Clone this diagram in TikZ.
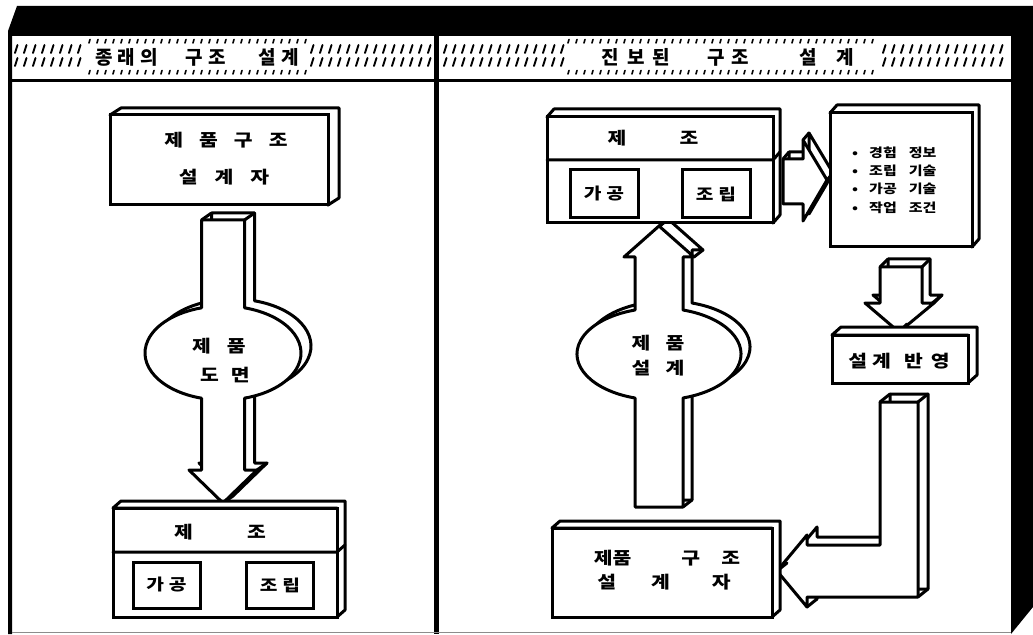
\documentclass[tikz,border=0pt]{standalone}
\usepackage{fontspec}
\newfontfamily\kr[FakeStretch=1.2]{Noto Sans CJK KR}
\newfontfamily\krt{Noto Sans CJK KR}
\usetikzlibrary{fit}

\tikzset{
  edge/.style={line width=3bp, line join=round, draw=black, fill=white},
  face/.style={draw=black, line width=3bp, fill=white, inner sep=0pt, outer sep=0pt},
  inbox/.style={draw=black, line width=3bp, fill=white, inner sep=0pt,
    minimum width=67bp, minimum height=46bp, font=\kr\bfseries\fontsize{16bp}{19bp}\selectfont},
  lbl/.style={font=\kr\bfseries\fontsize{17bp}{20bp}\selectfont, inner sep=0pt},
  ttl/.style={font=\krt\bfseries\fontsize{19bp}{22bp}\selectfont, inner sep=0pt},
  info/.style={font=\kr\bfseries\fontsize{12.5bp}{18.3bp}\selectfont, align=left, inner sep=0pt},
  tick/.style={line width=1.9bp, line cap=round},
  dot/.style={line width=1.6bp, line cap=round},
  link/.style={line width=3bp, line cap=round},
}

% a box drawn as a thin slab: top and side faces behind a front face
% #1 name, (#2,#3)-(#4,#5) front face, #6/#7 depth to the right / upwards
\newcommand\slabbox[7]{%
  \filldraw[edge] (#2,#3) -- (#2+#6,#3-#7) -- (#4+#6,#3-#7) -- (#4+#6,#5-#7)
    -- (#4,#5) -- (#4,#3) -- cycle;
  \node[face, fit={(#2,#3) (#4,#5)}] (#1) {};
}

% outlines of the block arrows (front faces)
\def\arrowLdown{(201.5,220) -- (244.5,220) -- (244.5,307.8)
  arc[start angle=-74, end angle=74, x radius=78, y radius=47]
  -- (244.5,470) -- (257,470) -- (223,503) -- (189,470) -- (201.5,470) -- (201.5,398.2)
  arc[start angle=106, end angle=254, x radius=78, y radius=47] -- cycle}
\def\arrowRup{(635,507) -- (635,398)
  arc[start angle=107, end angle=253, x radius=82, y radius=46]
  -- (635,257) -- (624,257) -- (659,226) -- (694,257) -- (683,257) -- (683,310)
  arc[start angle=-73, end angle=73, x radius=82, y radius=46] -- (683,507) -- cycle}
\def\arrowRright{(783,159) -- (803,159) -- (803,140) -- (827,180) -- (803,221)
  -- (803,204) -- (783,204) -- cycle}
\def\arrowRdown{(880,267) -- (922,267) -- (922,303) -- (934,303) -- (899,332)
  -- (865,303) -- (880,303) -- cycle}
\def\arrowRL{(880,402) -- (918,402) -- (918,597) -- (807,597) -- (807,607)
  -- (777,571) -- (807,535) -- (807,545) -- (880,545) -- cycle}

\begin{document}
\begin{tikzpicture}[x=1bp, y=-1bp]
\useasboundingbox (0,0) rectangle (1033,635);
\fill[white] (0,0) rectangle (1033,635);

% ---------- frame ----------
\fill[black] (17,6) -- (1033,6) -- (1033,607) -- (1011,634) -- (1011,36)
  -- (12,36) -- (12,634) -- (8,634) -- (8,31) -- cycle;
\draw[line width=3bp] (12,81) -- (1011,81);
\draw[line width=5bp] (436,36) -- (436,634);
\draw[line width=0.7bp, black!45] (12,632) -- (1011,632);

% ---------- hatched header ----------
\foreach \x in {15,24,...,84, 311,320,...,430, 444,453,...,562, 883,892,...,1006} {
  \draw[tick] (\x,53) -- (\x+2.5,45);
  \draw[tick] (\x,66) -- (\x+2.5,58);
}
\foreach \x in {89,97,...,305, 568,576,...,877} {
  \draw[dot] (\x,43) -- (\x+1,39.5);
  \draw[dot] (\x,74) -- (\x+1,70.5);
}
\node[ttl] (ltitle) at (197,57) {종\kern5bp래\kern5bp의\kern28bp구\kern5bp조\kern33bp설\kern5bp계};
\node[ttl] (rtitle) at (728,57) {진\kern8bp보\kern8bp된\kern37bp구\kern7bp조\kern50bp설\kern20bp계};

% ---------- left panel ----------
\filldraw[edge, shift={(10,-7)}] \arrowLdown;
\filldraw[edge] \arrowLdown;
\draw[link] (201.5,220) -- (211.5,213) (244.5,220) -- (254.5,213)
  (257,470) -- (267,463) (223,503) -- (233,496);

\slabbox{ldesigner}{110}{115}{328}{205}{11}{7}
\node[lbl] (ldes1) at (226,140) {제\kern16bp품\kern16bp구\kern16bp조};
\node[lbl] (ldes2) at (224,177) {설\kern17bp계\kern17bp자};

\node[lbl] (ldraw1) at (219,346) {제\kern16bp품};
\node[lbl] (ldraw2) at (225,375) {도\kern12bp면};

\slabbox{lmaking}{113}{508}{337}{617}{8}{7}
\draw[link] (113,552) -- (337,552) -- (345,545);
\node[lbl] (lmake) at (220,532) {제\kern54bp조};
\node[inbox] (lproc) at (166.5,585) {가\kern5bp공};
\node[inbox] (lasm) at (280,585) {조\kern5bp립};

% ---------- right panel ----------
\filldraw[edge, shift={(9,-7)}] \arrowRup;
\filldraw[edge] \arrowRup;
\draw[link] (683,507) -- (692,500) (659,226) -- (668,219) (694,257) -- (703,250);

\filldraw[edge, shift={(6,-7)}] \arrowRright;
\filldraw[edge] \arrowRright;
\draw[link] (783,159) -- (789,152) (803,140) -- (809,133) (827,180) -- (833,173);

\filldraw[edge, shift={(8,-8)}] \arrowRdown;
\filldraw[edge] \arrowRdown;
\draw[link] (880,267) -- (888,259) (922,267) -- (930,259) (934,303) -- (942,295)
  (899,332) -- (907,324);

\filldraw[edge, shift={(10,-8)}] \arrowRL;
\filldraw[edge] \arrowRL;
\draw[link] (880,402) -- (890,394) (918,402) -- (928,394) (918,597) -- (928,589)
  (807,607) -- (817,599) (777,571) -- (787,563);

\slabbox{rmaking}{547}{117}{773}{223}{7}{8}
\draw[link] (547,160) -- (773,160) -- (780,152);
\node[lbl] (rmake) at (653,138) {제\kern53bp조};
\node[inbox, minimum height=48bp, minimum width=68bp] (rproc) at (604,194) {가\kern5bp공};
\node[inbox, minimum height=48bp, minimum width=68bp] (rasm) at (716,194) {조\kern5bp립};

\slabbox{knowhow}{830}{113}{972}{247}{7}{8}
\node[info, anchor=west] (knowtxt) at (852,180)
  {\makebox[17bp][l]{•}경험\kern12bp정보\\
   \makebox[17bp][l]{•}조립\kern12bp기술\\
   \makebox[17bp][l]{•}가공\kern12bp기술\\
   \makebox[17bp][l]{•}작업\kern12bp조건};

\slabbox{feedback}{832}{335}{968}{383}{9}{8}
\node[lbl] (fbtxt) at (899,361) {설\kern5bp계\kern13bp반\kern8bp영};

\node[lbl] (rdes1) at (658,343) {제\kern15bp품};
\node[lbl] (rdes2) at (658,368) {설\kern15bp계};

\slabbox{rdesigner}{552}{528}{772}{617}{8}{7}
\node[lbl] (rdesa) at (667,558) {제품\kern50bp구\kern21bp조};
\node[lbl] (rdesb) at (664,582) {설\kern35bp계\kern42bp자};
\end{tikzpicture}
\end{document}
